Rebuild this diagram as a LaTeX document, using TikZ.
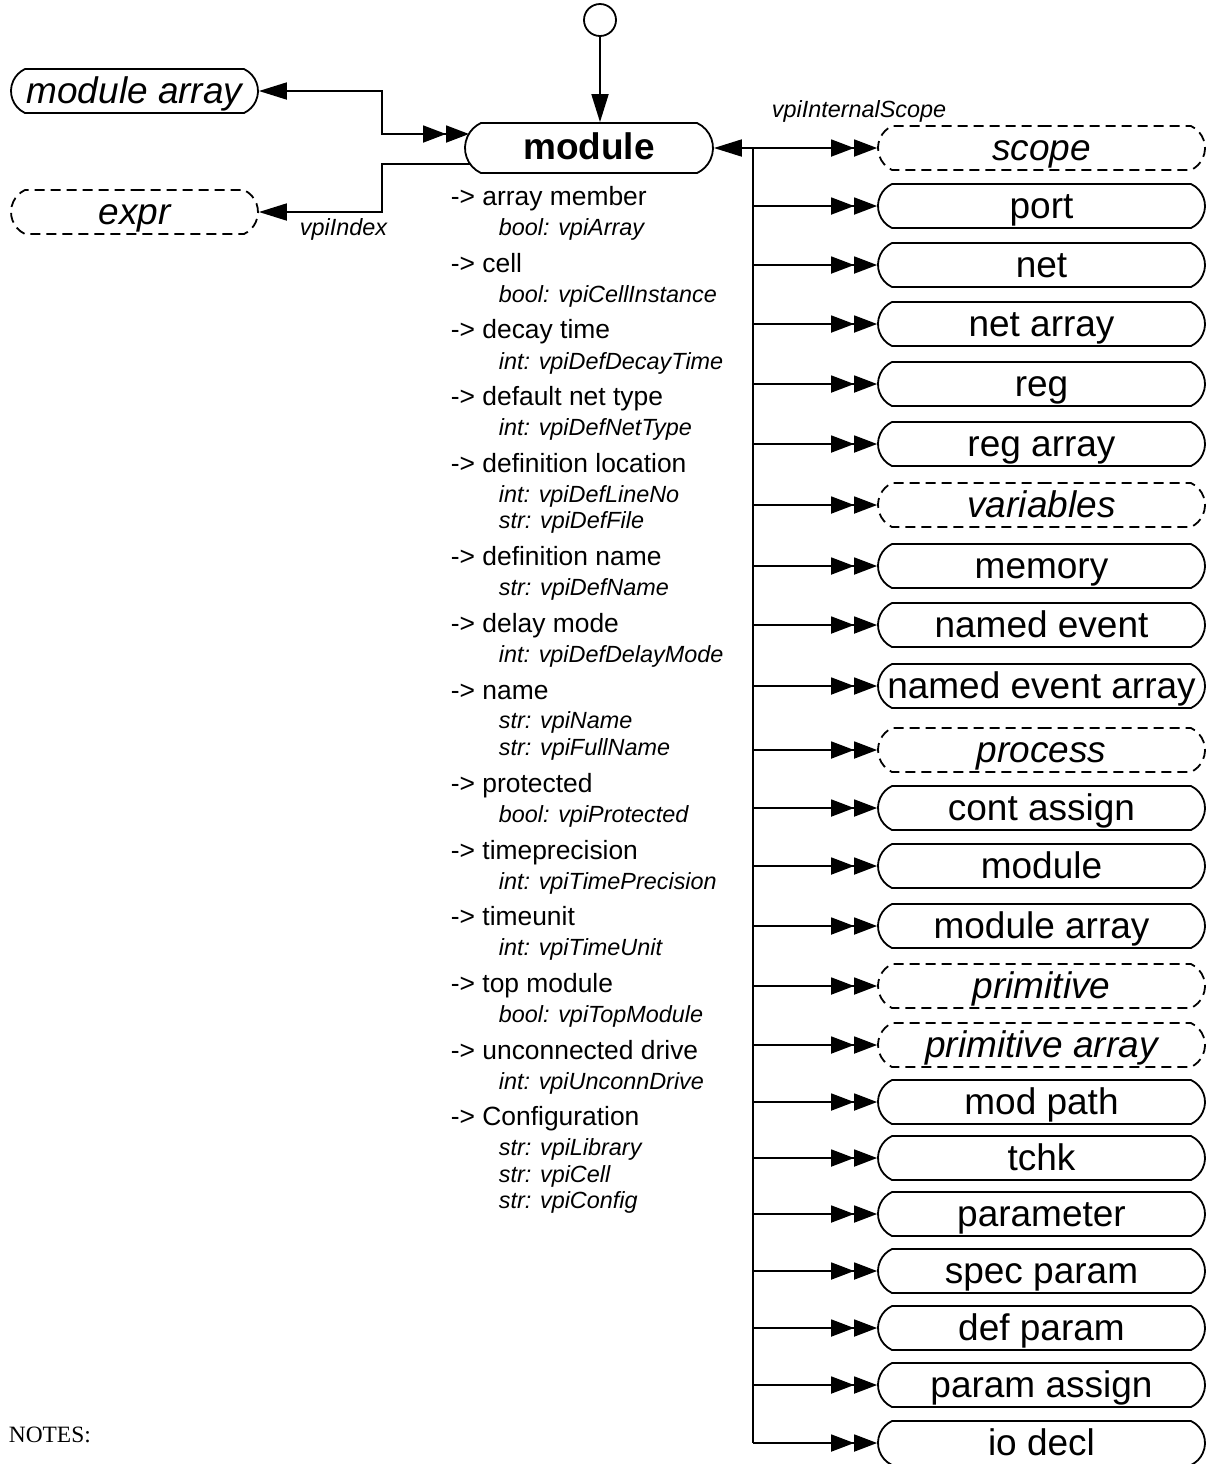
\documentclass[tikz,border=0pt]{standalone}
\usepackage{fontspec}
\setmainfont{Liberation Sans}
\newfontfamily\notesfont{Liberation Serif}
\usetikzlibrary{arrows.meta,shapes.misc}

\begin{document}
\begin{tikzpicture}[x=0.5pt,y=-0.5pt,line width=0.9pt,
  sgl/.tip={Triangle[length=14pt,width=8.5pt]},
  dbl/.tip={Triangle[length=11.5pt,width=8.5pt]Triangle[length=11.5pt,width=8.5pt]},
  obj/.style={draw,rounded rectangle,rounded rectangle arc length=130,
    minimum height=22pt,minimum width=163.5pt,inner sep=0pt,
    font=\fontsize{18.5}{20}\selectfont,text height=13pt,text depth=1pt},
  objit/.style={obj,font=\fontsize{18.5}{20}\selectfont\itshape},
  objd/.style={objit,dash pattern=on 5pt off 3pt},
  attr/.style={anchor=base west,inner sep=0pt,font=\fontsize{13.2}{15}\selectfont},
  attrv/.style={anchor=base west,inner sep=0pt,font=\fontsize{11.7}{13}\selectfont\itshape}]

% Page size
\useasboundingbox (0,0) rectangle (1213,1464);

% Bus and column
\def\bx{753}
\def\cx{1041.5}
\def\lx{134.5}

% Main object
\node[draw,circle,minimum size=16pt,inner sep=0pt] (start) at (600,20) {};
\node[obj,minimum width=124pt,minimum height=25pt,text height=12pt,
  font=\fontsize{18.5}{20}\selectfont\bfseries] (mod) at (589,148) {module};
\draw[-sgl] (start.south) -- (start.south |- mod.north);

% Left side
\node[objit,minimum width=123.5pt] (modarr) at (\lx,91) {module array};
\node[objd,minimum width=123.5pt] (expr) at (\lx,212) {expr};
\coordinate (kneeA) at (382,134);
\coordinate (modin) at (469,134);
\coordinate (kneeB) at (382,164);
\coordinate (modout) at (470,164);
\draw[sgl-dbl] (modarr.east) -| (kneeA) -- (modin);
\draw[-sgl] (modout) -- (kneeB) |- (expr.east);
\node[attrv,anchor=base east] (lidx) at (388,235) {vpiIndex};

% Attributes
\node[attr] (t1) at (450,205) {-> array member};
\node[attrv] (v1) at (498,235) {bool: vpiArray};
\node[attr] (t2) at (450,272) {-> cell};
\node[attrv] (v2) at (498,302) {bool: vpiCellInstance};
\node[attr] (t3) at (450,338) {-> decay time};
\node[attrv] (v3) at (498,369) {int: vpiDefDecayTime};
\node[attr] (t4) at (450,405) {-> default net type};
\node[attrv] (v4) at (498,435) {int: vpiDefNetType};
\node[attr] (t5) at (450,472) {-> definition location};
\node[attrv] (v5) at (498,502) {int: vpiDefLineNo};
\node[attrv] (v5b) at (498,528) {str: vpiDefFile};
\node[attr] (t6) at (450,565) {-> definition name};
\node[attrv] (v6) at (498,595) {str: vpiDefName};
\node[attr] (t7) at (450,632) {-> delay mode};
\node[attrv] (v7) at (498,662) {int: vpiDefDelayMode};
\node[attr] (t8) at (450,699) {-> name};
\node[attrv] (v8) at (498,728) {str: vpiName};
\node[attrv] (v8b) at (498,755) {str: vpiFullName};
\node[attr] (t9) at (450,792) {-> protected};
\node[attrv] (v9) at (498,822) {bool: vpiProtected};
\node[attr] (t10) at (450,859) {-> timeprecision};
\node[attrv] (v10) at (498,889) {int: vpiTimePrecision};
\node[attr] (t11) at (450,925) {-> timeunit};
\node[attrv] (v11) at (498,955) {int: vpiTimeUnit};
\node[attr] (t12) at (450,992) {-> top module};
\node[attrv] (v12) at (498,1022) {bool: vpiTopModule};
\node[attr] (t13) at (450,1059) {-> unconnected drive};
\node[attrv] (v13) at (498,1089) {int: vpiUnconnDrive};
\node[attr] (t14) at (450,1125) {-> Configuration};
\node[attrv] (v14) at (498,1155) {str: vpiLibrary};
\node[attrv] (v14b) at (498,1182) {str: vpiCell};
\node[attrv] (v14c) at (498,1208) {str: vpiConfig};

% Right column
\node[objd] (scope) at (\cx,148) {scope};
\node[obj] (port) at (\cx,206) {port};
\node[obj] (net) at (\cx,265) {net};
\node[obj] (netarr) at (\cx,324) {net array};
\node[obj] (reg) at (\cx,384) {reg};
\node[obj] (regarr) at (\cx,444) {reg array};
\node[objd] (vars) at (\cx,505) {variables};
\node[obj] (mem) at (\cx,566) {memory};
\node[obj] (nev) at (\cx,625) {named event};
\node[obj] (nevarr) at (\cx,686) {named event array};
\node[objd] (proc) at (\cx,750) {process};
\node[obj] (cassign) at (\cx,808) {cont assign};
\node[obj] (submod) at (\cx,866) {module};
\node[obj] (submodarr) at (\cx,926) {module array};
\node[objd] (prim) at (\cx,986) {primitive};
\node[objd] (primarr) at (\cx,1045) {primitive array};
\node[obj] (mpath) at (\cx,1102) {mod path};
\node[obj] (tchk) at (\cx,1158) {tchk};
\node[obj] (param) at (\cx,1214) {parameter};
\node[obj] (sparam) at (\cx,1271) {spec param};
\node[obj] (dparam) at (\cx,1328) {def param};
\node[obj] (passign) at (\cx,1385) {param assign};
\node[obj] (iodecl) at (\cx,1443) {io decl};

% Bus
\coordinate (bus) at (\bx,148);
\draw[-sgl] (bus) -- (mod.east);
\draw (bus) -- (bus |- iodecl);
\node[attrv,anchor=base] (lscope) at (859,117) {vpiInternalScope};
\draw[-dbl] (bus) -- (scope);
\draw[-dbl] (bus |- port) -- (port);
\draw[-dbl] (bus |- net) -- (net);
\draw[-dbl] (bus |- netarr) -- (netarr);
\draw[-dbl] (bus |- reg) -- (reg);
\draw[-dbl] (bus |- regarr) -- (regarr);
\draw[-dbl] (bus |- vars) -- (vars);
\draw[-dbl] (bus |- mem) -- (mem);
\draw[-dbl] (bus |- nev) -- (nev);
\draw[-dbl] (bus |- nevarr) -- (nevarr);
\draw[-dbl] (bus |- proc) -- (proc);
\draw[-dbl] (bus |- cassign) -- (cassign);
\draw[-dbl] (bus |- submod) -- (submod);
\draw[-dbl] (bus |- submodarr) -- (submodarr);
\draw[-dbl] (bus |- prim) -- (prim);
\draw[-dbl] (bus |- primarr) -- (primarr);
\draw[-dbl] (bus |- mpath) -- (mpath);
\draw[-dbl] (bus |- tchk) -- (tchk);
\draw[-dbl] (bus |- param) -- (param);
\draw[-dbl] (bus |- sparam) -- (sparam);
\draw[-dbl] (bus |- dparam) -- (dparam);
\draw[-dbl] (bus |- passign) -- (passign);
\draw[-dbl] (bus |- iodecl) -- (iodecl);

% Notes
\node[anchor=base west,inner sep=0pt,font=\notesfont\fontsize{11.7}{13}\selectfont] (notes) at (8,1442) {NOTES:};

\end{tikzpicture}
\end{document}
